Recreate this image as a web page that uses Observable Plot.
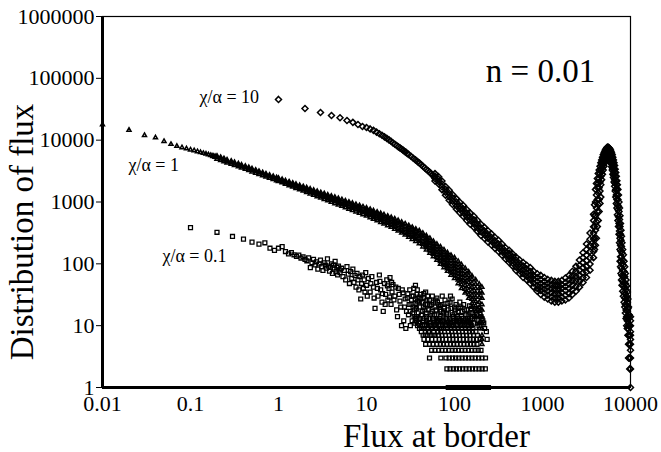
<!DOCTYPE html>
<html>
<head>
<meta charset="utf-8">
<script src="https://cdn.jsdelivr.net/npm/d3@7"></script>
<script src="https://cdn.jsdelivr.net/npm/@observablehq/plot@0.6"></script>
<style>
  html, body { margin: 0; padding: 0; background: white; }
  #chart svg, #chart svg text { font-family: 'Liberation Serif', 'Times New Roman', Times, serif !important; }
</style>
</head>
<body>
<div id="chart"></div>
<script>
// Tick values
const xTicks = [0.01, 0.1, 1, 10, 100, 1000, 10000];
const yTicks = [1, 10, 100, 1000, 10000, 100000, 1000000];

// Text
const xTitle = "Flux at border";
const yTitle = "Distribution of flux";
const panelTitle = "n = 0.01";
const seriesNames = ["χ/α = 10", "χ/α = 1", "χ/α = 0.1"];

// χ/α = 1 (triangles): [x, y values read at that x ...]
const triangleRows = [
[0.01,17800],[0.02,14600],[0.03,12000],[0.04,11000],[0.05,9600],[0.06,8600],[0.07,8000],[0.08,7600],[0.09,7300],[0.1,7000],
[0.11,6800],[0.12,6550],[0.13,6350],[0.14,6150],[0.15,6000],[0.16,5850],[0.17,5700],[0.18,5600,5450],[0.19,5500,5300],
[0.2,5560,4955,5250],[0.22,5300,4720,5000],[0.24,5060,4510,4800],[0.26,4820,4300,4550],[0.29,4600,4100,4350],[0.316,4390,3910,4150],[0.35,4180,3730,3950],[0.38,3990,3560,3780],[0.42,3800,3390,3600],[0.46,3630,3240,3430],[0.5,3460,3080,3270],[0.55,3300,2940,3120],[0.6,3150,2810,2980],[0.66,3000,2680,2840],[0.72,2860,2550,2700],[0.79,2730,2430,2580],[0.87,2610,2320,2460],[0.95,2490,2220,2350],
[1,2430,2335,2245,2160],[1.1,2320,2227,2137,2050],[1.2,2220,2127,2037,1950],[1.32,2130,2032,1939,1850],[1.45,2030,1937,1847,1760],[1.58,1945,1850,1759,1670],[1.74,1860,1763,1672,1585],[1.91,1780,1686,1596,1510],[2.09,1710,1611,1518,1430],[2.29,1630,1534,1444,1360],[2.51,1560,1465,1375,1290],[2.75,1490,1396,1308,1225],[3.02,1425,1332,1246,1165],[3.31,1370,1275,1187,1105],[3.63,1305,1214,1129,1050],[3.98,1250,1160,1077,998],[4.37,1197,1106,1023,946],[4.79,1143,1055,974,900],[5.25,1096,1008,928,855],[5.75,1047,962,884,813],[6.31,1002,918,841,771],[6.92,959,876,800,731],[7.59,916,835,762,695],[8.32,879,799,727,661],[9.12,840,763,692,628],
[10,804,745,690,640,596],[11,764,706,655,606,561],[12,726,670,620,572,528],[13.2,690,636,587,541,498],[14.5,656,604,556,510,469],[15.8,624,573,526,482,442],[17.4,593,543,498,455,416],[19.1,565,517,472,431,393],[20.9,535,486,443,404,366],[22.9,504,458,415,376,340],[25.1,473,427,386,350,316],[27.5,446,401,361,325,293],
[30.2,418,384,352,322,295,271],[33.1,391,357,327,299,273,250],[36.3,366,334,304,278,253,231],[39.8,344,312,283,257,233,212],[43.7,314,284,257,232,209,189],
[47.9,286,262,240,220,201,184,169],[52.5,259,236,216,197,179,163,149],[57.5,232,211,192,175,159,144,131],[63.1,208,189,171,155,140,127,115],[69.2,189,170,153,138,123,110,99],
[75.9,169,154,140,127,116,105,96,87],[83.2,152,138,125,113,102,92,84,76],[91.2,138,124,112,101,91,82,74,66],[100,126,113,101,91,82,73,65,58],[110,110,98,87,78,70,62,55,48],[120,97,86,76,68,60,53,46,40],[132,85,75,66,58,51,45,39,34],[145,74,65,57,50,43,37,32,28],[158,64,56,48,42,36,31,27,23,20],[174,55,47,40,34,29,25,21,17,14],[191,47,40,34,29,24,20,17,14,11,9],[205,42,34,28,22,18,14,11,9,7,6,5]
];

// χ/α = 10 (diamonds)
const diamondRows = [
[1,45600],[2,32500],[3,28000],[4,25000],[5,23000],[6,20800],[7,19400],[8,17900],[9,16600],[10,16000],
[11,15200],[12,14400],[13,13500],[14,12700],[15,12000],[16,11300],[17,10700],[18,10100],[19,9600],[20,9000],[21,8600],[22,8200],[23,7800],[24,7500],[25,7200],[26,6900],[27,6600],[28,6400],[29,6100],[30,5900],
[32,5500],[34,5100],[36,4800],[38,4500],[40,4250],[42,4000],[44,3750],[46,3550],[48,3350],[50,3200],[52,3050],[54,2900],[56,2750],[58,2600],
[60,2880,2620,2400,2190],[66,2570,2340,2140,1950],[72,2190,1960,1770,1585],[79,1780,1600,1440,1290],[87,1550,1370,1210,1070],[95,1320,1170,1030,912],[105,1135,998,873,767],[115,989,868,762,668],[126,881,770,670,582],[138,759,662,576,501],[151,661,577,502,437],[166,589,514,447,389],[182,507,442,384,335],[200,437,381,331,288],[219,389,339,295,257],[240,343,299,260,226],[263,305,266,232,202],[288,269,235,204,178],[316,240,209,182,158],[347,209,182,159,138],[380,182,159,138,120],
[417,166,150,135,118,105],[457,146,131,117,103,92],[501,129,114,101,89,78],[550,115,101,89,78,69],[603,105,92,80,69,60],[661,95,83,72,63,55],[724,87,75,65,56,48],[794,76,65,57,49,42],[871,69,60,52,45,40,36],
[955,65,56,48,42,37,32],[1047,60,52,45,39,34,29],[1148,56,48,42,36,31,27],[1259,54,46,40,34,29,25],[1380,52,45,39,33,28,24],[1514,52,45,39,33,28,24],[1660,54,46,40,34,29,25],[1820,59,50,43,37,31,26],[1995,65,55,47,40,33,28],[2188,76,64,54,45,38,32],[2399,91,76,63,53,43,36],[2630,115,94,78,64,52,42],
[2884,151,126,105,87,72,60,50],[3162,209,170,138,112,91,74,60],[3467,316,250,198,158,125,99,79],[3802,631,500,398,316,251,199,158,126],
[3900,900,600,400,260,170],[4000,1600,1000,600,350,200],[4100,2000,1300,800,480,260],[4200,2400,1700,1100,700,400],[4300,2900,2000,1400,900,500],[4400,3300,2400,1700,1100,700],[4500,3800,2900,2100,1500,950],[4600,4300,3400,2600,1900,1200],[4700,4800,3900,3100,2300],[4800,5300,4400,3600,2800],[4900,5800,4900,4100,3300],[5000,6200,5300,4500,3800],[5100,6600,5800,5000,4300],[5200,7000,6200,5500,4800],[5300,7300,6600,5900,5300],[5400,7600,6900,6300,5800],[5500,7750,7100,6500],[5600,7700,7100,6500,6000],[5700,7500,6900,6200,5600],[5800,7300,6600,5800,5000],[5900,7000,6200,5400,4600],[6000,6600,5800,5000,4200],[6100,6200,5300,4500,3700],[6200,5800,4900,4000,3300],[6300,5300,4400,3500,2800],[6400,4800,3900,3100,2500],[6500,4300,3400,2700,2100],[6600,3900,3000,2300,1800],[6700,3400,2600,2000,1500],[6800,3000,2200,1600,1200],[6900,2600,1900,1300,950],[7000,2200,1600,1100,800],[7100,1900,1300,900,620],[7200,1600,1100,750,500],[7300,1300,850,580,400],[7400,1000,700,450,300],[7500,800,520,340,220],[7600,600,400,260,170,110],[7700,450,300,200,130,90],[7800,350,240,160,110,70],[7900,280,190,130,85,55],[8000,220,150,100,65,45],[8150,170,115,78,52,36],[8300,140,95,64,44,30],[8450,110,75,50,34,24],[8600,90,62,42,28,20],[8750,70,48,33,22,16],[8900,55,38,27,18,13],[9050,44,30,21,14,10],[9200,35,24,17,12,9],[9350,27,19,13,9,7],[9500,20,14,10,7,5,3],[9650,15,10,7,5,3],[9800,10,7,5,3,2],[10000,14,12,10,8,7,6,5,4,3,2,1]
];

// χ/α = 0.1 (squares): scattered points [x, y]
const squarePoints = [
[0.1,385],[0.2,324],[0.3,277],[0.4,251],[0.5,224],[0.6,208],[0.7,219],[0.8,179],[0.9,165],[1,179],[1.1,190],[1.2,158],[1.3,145],[1.4,152],[1.5,140],[1.6,132],[1.7,138],[1.8,124],[1.9,130],[2,118],
[2.1,112],[2.2,125],[2.3,87],[2.4,104],[2.5,118],[2.6,96],[2.7,108],[2.8,82],[2.9,100],[3,115],[3.1,90],[3.2,78],[3.3,104],[3.4,95],[3.5,85],[3.6,120],[3.7,92],[3.8,76],[3.9,88],[4,100],[4.1,70],[4.2,95],[4.3,82],[4.4,110],[4.5,75],[4.6,88],[4.7,66],[4.8,92],[4.9,80],[5,72],
[5.2,85],[5.4,62],[5.6,78],[5.8,55],[6,90],[6.2,68],[6.4,48],[6.6,75],[6.8,58],[7,82],[7.2,50],[7.4,65],[7.6,42],[7.8,70],[8,55],[8.2,38],[8.4,62],[8.6,27],[8.8,48],[9,66],[9.2,40],[9.4,55],[9.6,35],[9.8,72],[10,45],
[10.2,30],[10.5,58],[11,35],[11.2,48],[11.5,62],[12,42],[12.2,28],[12.5,19],[13,50],[13.3,40],[13.5,30],[14,66],[14.2,52],[14.5,38],[15,24],[15.2,33],[15.5,17],[16,48],[16.3,22],[16.5,32],[17,55],[17.3,44],[17.5,26],[18,40],[18.3,29],[18.5,60],[19,22],[19.3,50],[19.5,35],[20,46],
[20.5,26],[21,30],[21.5,42],[22,18],[22.5,14],[23,40],[23.5,32],[24,25],[24.5,20],[25,10],[25.5,38],[26,34],[26.5,12],[27,20],[27.5,27],[28,9],[28.5,17],[29,28],[29.5,33],[30,15],[31,38],[31.5,10],[32,22],[32.5,26],[33,12],[33.5,16],[34,30],[34.5,40],[35,18],[35.5,11],[36,45],[36.5,23],[37,14],[37.5,32],[38,25],[38.5,13],[39,11],[39.5,29],[40,20],
[41,32],[42,15],[42.5,9],[43,24],[44,12],[44.5,20],[45,28],[46,18],[46.5,7],[47,35],[48,14],[48.5,26],[49,22],[50,11],[50.5,8],[51,18],[52,26],[53,10],[54,16],[55,22],[56,30],[57,7],[58,13],[59,15],[60,20],[61,10],[62,15],[63,28],[64,24],[65,8],[66,12],[67,13],[68,18],[69,21],[70,14],
[71,9],[72,22],[73,12],[75,16],[76,19],[78,26],[79,10],[80,13],[82,15],[85,18],[86,11],[89,24],[90,30],[93,10],[95,15],[97,14],[100,20],[102,18],[105,12],[108,10],[110,17],[113,13],[115,24],[118,20],[120,14],[124,11],[130,18],[135,15],[140,12],[145,10],[150,16],[155,19],[160,13],[165,11],[170,19],[178,15],[185,12],[190,10],[200,14],[205,13],[215,11],[220,9],
[30.5,22],[31.2,17],[32.8,30],[33.8,20],[34.8,14],[35.8,27],[36.8,19],[37.8,38],[38.8,16],[39.8,24],[40.5,13],[41.5,27],[43.5,17],[44.8,33],[45.5,10],[46.8,22],[47.5,16],[49.5,30],[51.5,13],[52.5,21],[54.5,9],[55.5,17],[57.5,24],[58.5,11],[60.5,26],[62.5,18],[64.5,12],[66.5,22],[68.5,10],[70.5,17],[72.5,30],[74,12],[77,20],[81,16],[84,23],[88,13],[91,19],[94,27],[98,12],[101,16],[104,22],[107,14],[112,19],[116,12],[122,17],[127,22],[133,13],[138,18],[143,15],[148,21],[153,12],[158,16],[168,14],[175,18],[182,11],[195,16],[210,12],[230,8],[235,6]
];
// χ/α = 0.1 (squares): integer counts [y, [x ...]]
const squareRows = [
[1,[85,92,100,108,117,127,138,150,163,177,192,208,225,243]],
[2,[82,89,97,105,114,124,135,147,160,174,190,206,224]],
[3,[52,70,80,87,95,103,112,122,133,145,158,172,188,205,225]],
[4,[55,60,66,72,79,86,94,102,111,121,132,144,157,171,186,200]],
[5,[47,52,57,63,69,75,82,90,98,107,117,128,140,152,166,180]],
[6,[45,50,55,61,67,73,80,88,96,105,115,126,138,150,164,178,195]],
[7,[44,49,54,60,66,72,79,87,95,104,114,125,137,150,165,182]],
[8,[42,47,52,58,64,70,77,85,93,102,112,123,135,148,160,175]],
[9,[40,45,50,56,62,68,75,83,91,100,110,121,133,146,162]],
[10,[38,43,48,54,60,66,73,80,88,97,107,118,130,142,155]],
[11,[40,52,63,76,90,104,118,135,152]],
[12,[37,48,58,70,84,99,113,128,145]],
[13,[36,45,56,68,82,96,110,125,140]]
];

// Reshape into point tables
const triangles = triangleRows.flatMap(([x, ...ys]) => ys.map(y => ({x, y})));
const diamonds = diamondRows.flatMap(([x, ...ys]) => ys.map(y => ({x, y})));
const squares = squarePoints.map(([x, y]) => ({x, y}))
  .concat(squareRows.flatMap(([y, xs]) => xs.map(x => ({x, y}))));

const serif = "'Liberation Serif', 'Times New Roman', Times, serif";

const chart = Plot.plot({
  width: 661,
  height: 452,
  marginLeft: 102,
  marginRight: 31,
  marginTop: 16,
  marginBottom: 65,
  style: {fontFamily: serif, fontSize: "22px", background: "white", color: "black", overflow: "visible"},
  x: {type: "log", domain: [0.01, 10000], ticks: xTicks, tickFormat: d => String(d), tickSize: 0, tickPadding: 8, label: null},
  y: {type: "log", domain: [1, 1000000], ticks: yTicks, tickFormat: d => String(d), tickSize: 6, tickPadding: 2, label: null},
  marks: [
    Plot.frame({stroke: "black", strokeWidth: 1.2}),
    Plot.ruleX([0.01], {stroke: "black", strokeWidth: 3}),
    Plot.ruleY([1], {stroke: "black", strokeWidth: 3}),
    Plot.dot(squares, {x: "x", y: "y", symbol: "square2", r: 2.5, stroke: "black", fill: "none", strokeWidth: 1.3}),
    Plot.dot(triangles, {x: "x", y: "y", symbol: "triangle2", r: 1.9, stroke: "black", fill: "none", strokeWidth: 1.5}),
    Plot.dot(diamonds, {x: "x", y: "y", symbol: "diamond2", r: 2.7, stroke: "black", fill: "none", strokeWidth: 1.5}),
    Plot.text([seriesNames[0]], {x: 0.1265, y: 39200, text: d => d, textAnchor: "start", lineAnchor: "bottom", fontSize: 18, fill: "black"}),
    Plot.text([seriesNames[1]], {x: 0.0197, y: 3230, text: d => d, textAnchor: "start", lineAnchor: "bottom", fontSize: 18, fill: "black"}),
    Plot.text([seriesNames[2]], {x: 0.048, y: 109, text: d => d, textAnchor: "start", lineAnchor: "bottom", fontSize: 18, fill: "black"}),
    Plot.text([panelTitle], {x: 948, y: 85700, text: d => d, textAnchor: "middle", lineAnchor: "bottom", fontSize: 33, fill: "black"}),
    Plot.text([xTitle], {frameAnchor: "bottom", text: d => d, dx: 70, dy: 59, textAnchor: "middle", lineAnchor: "bottom", fontSize: 33, fill: "black"}),
    Plot.text([yTitle], {frameAnchor: "left", text: d => d, dx: -70, dy: 30, rotate: -90, textAnchor: "middle", lineAnchor: "bottom", fontSize: 33, fill: "black"})
  ]
});
document.getElementById("chart").appendChild(chart);
</script>
</body>
</html>
